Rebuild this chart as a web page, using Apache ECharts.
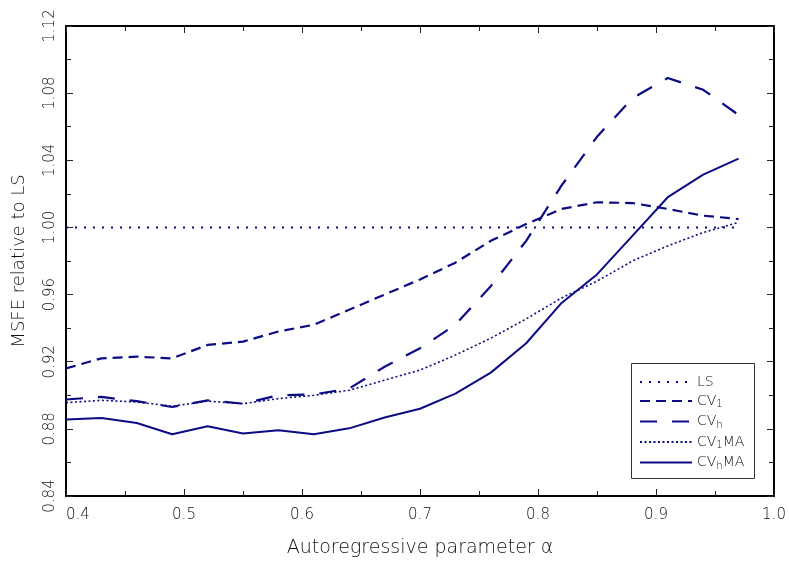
<!DOCTYPE html>
<html>
<head>
<meta charset="utf-8">
<script src="https://cdn.jsdelivr.net/npm/echarts@6/dist/echarts.min.js"></script>
<style>
html, body { margin: 0; padding: 0; background: #fff; }
#chart { width: 789px; height: 563px; }
</style>
</head>
<body>
<div id="chart"></div>
<script>
var alpha = [0.40, 0.43, 0.46, 0.49, 0.52, 0.55, 0.58, 0.61, 0.64, 0.67,
             0.70, 0.73, 0.76, 0.79, 0.82, 0.85, 0.88, 0.91, 0.94, 0.97];
var ls    = [1.000, 1.000, 1.000, 1.000, 1.000, 1.000, 1.000, 1.000, 1.000, 1.000,
             1.000, 1.000, 1.000, 1.000, 1.000, 1.000, 1.000, 1.000, 1.000, 1.000];
var cv1   = [0.916, 0.922, 0.923, 0.922, 0.930, 0.932, 0.938, 0.942, 0.951, 0.960,
             0.969, 0.979, 0.992, 1.002, 1.011, 1.015, 1.0145, 1.011, 1.007, 1.005];
var cvh   = [0.8975, 0.899, 0.8965, 0.893, 0.897, 0.895, 0.900, 0.9005, 0.904, 0.917,
             0.928, 0.942, 0.965, 0.992, 1.025, 1.054, 1.077, 1.089, 1.082, 1.067];
var cv1ma = [0.8956, 0.897, 0.896, 0.8935, 0.8965, 0.895, 0.898, 0.900, 0.903, 0.909,
             0.915, 0.924, 0.934, 0.9455, 0.958, 0.968, 0.980, 0.989, 0.997, 1.003];
var cvhma = [0.8856, 0.8864, 0.8835, 0.8768, 0.8815, 0.8772, 0.8791, 0.8768, 0.8803, 0.8868,
             0.892, 0.901, 0.9135, 0.931, 0.955, 0.972, 0.995, 1.018, 1.0315, 1.041];
var names = ['LS', 'CV1', 'CVh', 'CV1MA', 'CVhMA'];

var navy = '#0b0b84';
var font = 'DejaVu Sans';
var txt = '#111';

function pairs(ys) {
    return alpha.map(function (a, i) { return [a, ys[i]]; });
}

function mkSeries(name, ys, dash, width) {
    return {
        name: name,
        type: 'line',
        data: pairs(ys),
        symbol: 'none',
        showSymbol: false,
        lineStyle: { color: navy, width: width, type: dash, cap: 'butt' },
        itemStyle: { color: navy },
        animation: false
    };
}

function axisBase(pos, showLabel) {
    return {
        type: 'value',
        position: pos,
        axisLine: { show: true, onZero: false, lineStyle: { color: '#000', width: 2 } },
        axisTick: { show: true, inside: true, length: 7, lineStyle: { color: '#222', width: 1 } },
        minorTick: { show: true, splitNumber: 2, length: 5, lineStyle: { color: '#222', width: 1 } },
        splitLine: { show: false },
        axisLabel: { show: showLabel }
    };
}

var x1 = axisBase('bottom', true);
x1.min = 0.4; x1.max = 1.0; x1.interval = 0.1;
x1.axisLabel = { show: true, margin: 12, color: txt, fontFamily: font, fontWeight: 200, fontSize: 15,
                 alignMinLabel: 'left', formatter: function (v) { return v.toFixed(1); } };
x1.name = 'Autoregressive parameter α';
x1.nameLocation = 'middle';
x1.nameGap = 43;
x1.nameTextStyle = { color: txt, fontFamily: font, fontWeight: 200, fontSize: 19 };

var x2 = axisBase('top', false);
x2.min = 0.4; x2.max = 1.0; x2.interval = 0.1;

var y1 = axisBase('left', true);
y1.min = 0.84; y1.max = 1.12; y1.interval = 0.04;
y1.axisLabel = { show: true, rotate: 90, margin: 8, color: txt, fontFamily: font, fontWeight: 200, fontSize: 15,
                 formatter: function (v) { return v.toFixed(2); } };
y1.name = 'MSFE relative to LS';
y1.nameLocation = 'middle';
y1.nameGap = 38;
y1.nameTextStyle = { color: txt, fontFamily: font, fontWeight: 200, fontSize: 18 };

var y2 = axisBase('right', false);
y2.min = 0.84; y2.max = 1.12; y2.interval = 0.04;

var chart = echarts.init(document.getElementById('chart'));
chart.setOption({
    backgroundColor: '#fff',
    animation: false,
    grid: { left: 66, right: 15, top: 26, bottom: 65 },
    xAxis: [x1, x2],
    yAxis: [y1, y2],
    // legend frame (legend's own box is sized from the raw rich-text names)
    graphic: [{
        type: 'rect',
        left: 631,
        top: 363,
        z: 1,
        shape: { width: 123, height: 115 },
        style: { fill: '#fff', stroke: '#333', lineWidth: 1 }
    }],
    legend: {
        data: names,
        orient: 'vertical',
        left: 639,
        top: 375,
        padding: 0,
        itemGap: 5,
        itemWidth: 52,
        itemHeight: 14,
        itemStyle: { opacity: 0 },
        formatter: function (n) {
            if (n === 'CV1') return 'CV{s|1}';
            if (n === 'CVh') return 'CV{s|h}';
            if (n === 'CV1MA') return 'CV{s|1}MA';
            if (n === 'CVhMA') return 'CV{s|h}MA';
            return n;
        },
        textStyle: {
            color: txt, fontFamily: font, fontWeight: 200, fontSize: 14,
            rich: { s: { fontSize: 10, fontFamily: font, fontWeight: 200, color: txt, padding: [7, 0, 0, 0] } }
        }
    },
    series: [
        mkSeries('LS', ls, [2, 7], 2),
        mkSeries('CV1', cv1, [10, 6], 2.2),
        mkSeries('CVh', cvh, [17, 15], 2.2),
        mkSeries('CV1MA', cv1ma, [2, 2.5], 1.6),
        mkSeries('CVhMA', cvhma, 'solid', 2)
    ]
});
</script>
</body>
</html>
